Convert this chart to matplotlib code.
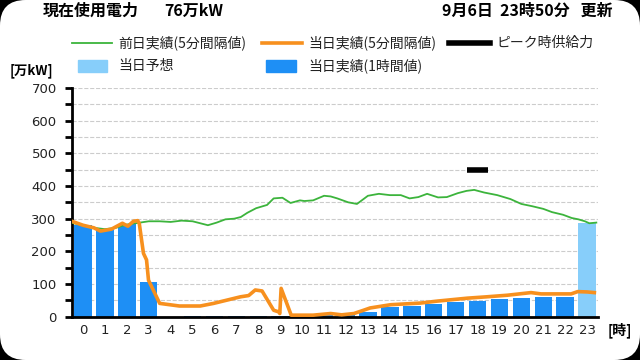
import matplotlib
matplotlib.use("Agg")
import matplotlib.pyplot as plt
from matplotlib.patches import FancyBboxPatch, Rectangle
from matplotlib.lines import Line2D
import numpy as np

plt.rcParams['font.family'] = ['Noto Sans CJK JP', 'DejaVu Sans']

# hourly actual (万kW), hour 0..22; hour 23 is the forecast
hours = list(range(24))
actual_1h = [280, 265, 285, 105, 0, 3, 3, 3, 3, 3, 3, 4, 5, 15, 29, 33, 39, 44, 49, 54, 59, 61, 61]
forecast_hour = 23
forecast_val = 286

# previous day, 5-min line (read at key times, hours)
prev_t = [0.0, 0.5, 1.0, 1.5, 2.0, 2.5, 3.1, 3.5, 4.0, 4.5, 5.0, 5.5, 5.85, 6.2, 6.6, 7.0, 7.4, 7.7,
          8.0, 8.4, 8.9, 9.2, 9.6, 9.97, 10.4, 10.6, 11.0, 11.5, 11.8, 12.1, 12.6, 13.0, 13.5, 14.0,
          14.5, 15.0, 15.4, 15.8, 16.2, 16.7, 17.1, 17.6, 18.0, 18.35, 18.8, 19.4, 20.0, 20.5, 21.0,
          21.5, 21.9, 22.4, 22.8, 23.1, 23.4, 23.6, 23.92]
prev_val = [287, 280, 272, 268, 272, 282, 288, 292, 292, 290, 294, 292, 286, 280, 288, 298, 300, 305,
            318, 332, 342, 362, 364, 348, 356, 354, 356, 370, 368, 362, 350, 345, 370, 376, 372,
            372, 362, 366, 376, 365, 366, 378, 385, 388, 380, 372, 360, 345, 338, 330, 320, 312,
            302, 298, 292, 286, 288]

# today, 5-min line
today_t = [0.0, 0.5, 1.0, 1.3, 1.8, 2.3, 2.55, 2.8, 3.0, 3.07, 3.26, 3.4, 3.49, 4.0, 4.9, 5.85, 6.46,
           7.07, 7.68, 8.06, 8.36, 8.67, 9.2, 9.43, 9.48, 9.54, 10.0, 11.0, 11.8, 12.3, 12.86, 13.3,
           13.6, 14.54, 15.9, 16.67, 18.04, 18.9, 19.87, 20.94, 21.4, 22.0, 22.77, 23.07, 23.5, 23.83]
today_val = [292, 280, 272, 262, 268, 286, 277, 292, 294, 285, 194, 174, 112, 41, 33, 33, 41, 51,
             61, 65, 82, 79, 20, 15, 10, 87, 5, 5, 10, 6, 10, 20, 27, 37, 42, 48, 57, 61, 66,
             74, 70, 70, 70, 77, 76, 74]

# peak supply capacity
peak_hour = 18
peak_val = 450

yticks = list(range(0, 701, 100))

fig = plt.figure(figsize=(6.4, 3.6), dpi=100)
fig.patch.set_facecolor('black')
panel = FancyBboxPatch((0.0, 0.0), 1.0, 1.0, boxstyle="round,pad=0,rounding_size=0.04",
                       transform=fig.transFigure, facecolor='white', edgecolor='none', zorder=0,
                       mutation_aspect=640 / 360)
fig.add_artist(panel)

ax = fig.add_axes([0.1125, 0.12, 0.822, 0.636])
ax.set_facecolor('white')

ax.bar(hours[:len(actual_1h)], actual_1h, width=0.8, color='#1e8ff5', zorder=2)
ax.bar([forecast_hour], [forecast_val], width=0.8, color='#87cefa', zorder=2)
ax.plot(np.array(prev_t) - 0.5, prev_val, color='#3cb43c', lw=1.3, zorder=3)
ax.plot(np.array(today_t) - 0.5, today_val, color='#f7901e', lw=2.6, zorder=4)
ax.plot([peak_hour - 0.5, peak_hour + 0.5], [peak_val, peak_val], color='black', lw=4, zorder=5,
        solid_capstyle='butt')

ax.set_xlim(-0.5, 23.5)
ax.set_ylim(0, 700)
ax.set_xticks(hours)
ax.set_xticklabels([str(h) for h in hours], fontsize=9.5, color='#222222', family='DejaVu Sans')
ax.set_yticks(yticks)
ax.set_yticklabels([str(v) for v in yticks], fontsize=9.5, color='#222222', family='DejaVu Sans')
ax.set_yticks(range(50, 700, 100), minor=True)
ax.tick_params(axis='x', length=0, pad=5)
ax.tick_params(axis='y', which='both', length=5, width=2, direction='out', pad=6)
ax.grid(axis='y', which='both', color='#cccccc', ls='--', lw=0.8, zorder=0)
for s in ['top', 'right']:
    ax.spines[s].set_visible(False)
ax.spines['left'].set_linewidth(2)
ax.spines['bottom'].set_linewidth(2)
ax.set_axisbelow(True)

fig.text(0.95, 0.083, '[時]', fontsize=10, weight='bold', ha='left', va='center')
fig.text(0.015, 0.805, '[万kW]', fontsize=9.5, weight='bold', ha='left', va='center')

# header
fig.text(43 / 640, 1 - 11 / 360, '現在使用電力', fontsize=11.5, weight='bold', ha='left', va='center')
fig.text(164 / 640, 1 - 11 / 360, '76万kW', fontsize=11.5, weight='bold', ha='left', va='center')
fig.text(613 / 640, 1 - 11 / 360, '9月6日  23時50分   更新', fontsize=11.5, weight='bold',
         ha='right', va='center')

# legend (manual)
y1 = 1 - 43 / 360
y2 = 1 - 66 / 360
fs = 10
fig.add_artist(Line2D([72 / 640, 112 / 640], [y1, y1], color='#3cb43c', lw=1.3, transform=fig.transFigure))
fig.text(118 / 640, y1, '前日実績(5分間隔値)', fontsize=fs, va='center', color='#222222')
fig.add_artist(Line2D([262 / 640, 302 / 640], [y1, y1], color='#f7901e', lw=2.6, transform=fig.transFigure))
fig.text(308 / 640, y1, '当日実績(5分間隔値)', fontsize=fs, va='center', color='#222222')
fig.add_artist(Line2D([449 / 640, 490 / 640], [y1, y1], color='black', lw=4, transform=fig.transFigure))
fig.text(496 / 640, y1, 'ピーク時供給力', fontsize=fs, va='center', color='#222222')
fig.add_artist(Rectangle((78 / 640, y2 - 6 / 360), 29 / 640, 12 / 360, color='#87cefa',
                         transform=fig.transFigure))
fig.text(118 / 640, y2, '当日予想', fontsize=fs, va='center', color='#222222')
fig.add_artist(Rectangle((266 / 640, y2 - 6 / 360), 30 / 640, 12 / 360, color='#1e8ff5',
                         transform=fig.transFigure))
fig.text(308 / 640, y2, '当日実績(1時間値)', fontsize=fs, va='center', color='#222222')

fig.savefig('out.png', dpi=100, facecolor=fig.get_facecolor())
